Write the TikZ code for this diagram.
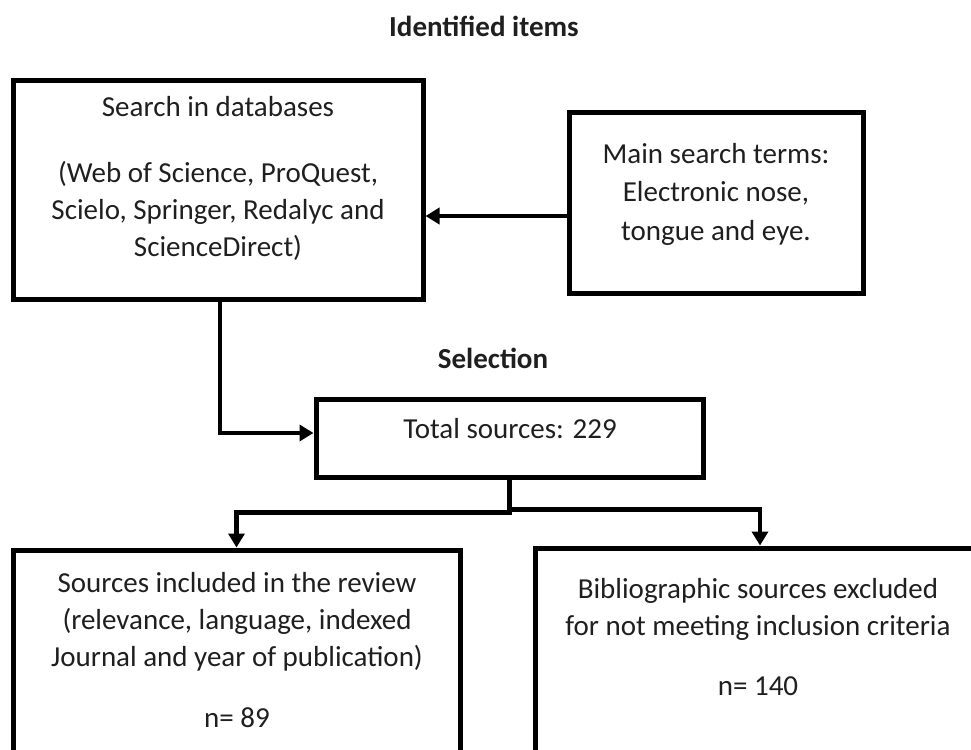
\documentclass[tikz,border=0pt]{standalone}
\usepackage{fontspec}
\setmainfont{Carlito}
\usetikzlibrary{arrows.meta}
\begin{document}
\begin{tikzpicture}[x=1pt,y=-1pt,
  boxst/.style={draw=black, line width=5pt, inner sep=0pt, rectangle},
  txt/.style={font=\fontsize{29}{37}\selectfont, align=center, inner sep=0pt, text=black!88},
  head/.style={font=\fontsize{29}{37}\selectfont\bfseries, inner sep=0pt, text=black!88},
  conn/.style={line width=4.5pt, -{Triangle[length=14pt,width=16pt]}}]
\useasboundingbox (0,0) rectangle (971,749);
\clip (0,0) rectangle (971,749);
% boxes
\node[boxst, minimum width=410pt, minimum height=218pt] (b1) at (218,190) {};
\node[boxst, minimum width=294pt, minimum height=180pt] (b2) at (716,203) {};
\node[boxst, minimum width=387pt, minimum height=78pt] (b3) at (509.5,438) {};
\node[boxst, minimum width=447pt, minimum height=240pt] (b4) at (236.5,670) {};
\node[boxst, minimum width=446pt, minimum height=242pt] (b5) at (758,669) {};
% headings
\node[head, anchor=base] (title) at (484,37) {Identified items};
\node[head, anchor=base] (sel) at (493,368) {Selection};
% texts (anchor base = baseline of the last line)
\node[txt, anchor=base] (t1a) at (218,117) {Search in databases};
\node[txt, anchor=base] (t1b) at (218,256) {(Web of Science, ProQuest,\\Scielo, Springer, Redalyc and\\ScienceDirect)};
\node[txt, anchor=base, font=\fontsize{29}{38.5}\selectfont] (t2) at (716,240) {Main search terms:\\Electronic nose,\\tongue and eye.};
\node[txt, anchor=base] (t3) at (510,438) {Total sources: 229};
\node[txt, anchor=base] (t4) at (237,666) {Sources included in the review\\(relevance, language, indexed\\Journal and year of publication)};
\node[txt, anchor=base] (t4n) at (237,727) {n= 89};
\node[txt, anchor=base] (t5) at (758,635) {Bibliographic sources excluded\\for not meeting inclusion criteria};
\node[txt, anchor=base] (t5n) at (758,695) {n= 140};
% connectors
\draw[conn] ([yshift=-13pt]b2.west) -- ([yshift=-13pt]b2.west -| b1.east);
\draw[conn] ([xshift=2pt]b1.south) |- ([yshift=5pt]b3.west);
\draw[conn] (b3.south) -- ++(0,33) -| (b4.north);
\draw[conn] (b3.south) -- ++(0,30) -| ([xshift=2pt]b5.north);
\end{tikzpicture}
\end{document}
